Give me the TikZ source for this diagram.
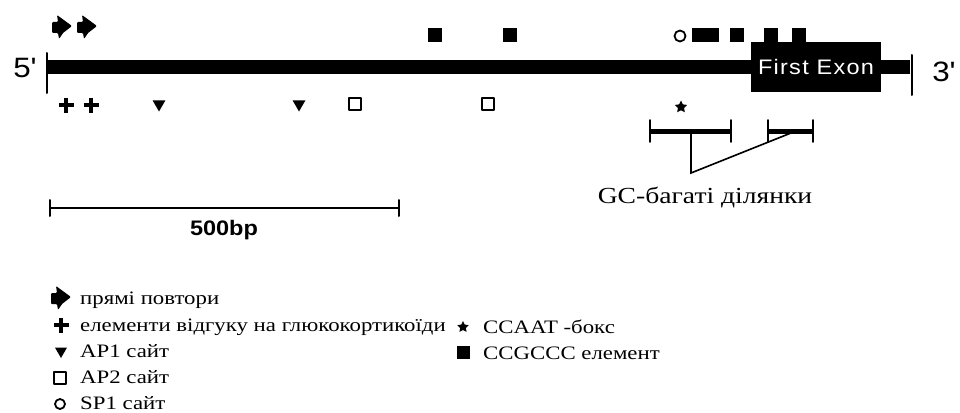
\documentclass[tikz,border=0pt]{standalone}
\usepackage{fontspec}
\setmainfont{Liberation Serif}[FakeStretch=1.2]
\newfontfamily\sansf{Liberation Sans}[FakeStretch=1.12]
\usetikzlibrary{shapes.geometric}

\tikzset{
  ccgc/.style={fill, minimum size=14pt, inner sep=0pt},
  aptwo/.style={draw, line width=1.8pt, minimum size=12pt, inner sep=0pt},
  spone/.style={circle, draw, line width=1.8pt, minimum size=11pt, inner sep=0pt},
  apone/.style={regular polygon, regular polygon sides=3, shape border rotate=180, fill, minimum size=15pt, inner sep=0pt},
  ccaat/.style={star, star points=5, star point ratio=2, fill, minimum size=13pt, inner sep=0pt},
  legtext/.style={anchor=base west, inner sep=0pt, font=\fontsize{19}{20}\selectfont},
  pics/gre/.style={code={\draw[line width=3.6pt, line cap=butt] (-7.5,0)--(7.5,0) (0,-7.5)--(0,7.5);}},
  pics/rep/.style={code={\fill[rounded corners=1pt] (-10,-5)--(-4,-5)--(-5,-12)--(10,-1)--(1,6)--(-3,12)--(-4,6)--(-10,6)--cycle;}}
}

\begin{document}
\begin{tikzpicture}[x=1pt, y=-1pt, line join=round, line cap=round]
\useasboundingbox (0,0) rectangle (960,412);
% promoter strand
\draw[line width=13pt, line cap=butt] (47,67) -- (910,67);
\draw[line width=2pt] (47,53) -- (47,93);
\draw[line width=2pt] (912,55) -- (912,95);
\node[font=\sansf\fontsize{28}{28}\selectfont] (five) at (25,68) {5'};
\node[font=\sansf\fontsize{28}{28}\selectfont] (three) at (944,72) {3'};
\node[fill, minimum width=130pt, minimum height=50pt, inner sep=0pt, text=white,
  font=\sansf\fontsize{21}{21}\selectfont\addfontfeature{LetterSpace=6}] (exon) at (816,67) {First Exon};

% sites above the strand
\foreach \x [count=\i] in {435,510,699,712,737,771,799}
  \node[ccgc] (cc\i) at (\x,35) {};
\node[spone] (sp) at (680,36) {};
\pic at (62,27) {rep};
\pic at (87,27) {rep};

% sites below the strand
\pic at (66,105) {gre};
\pic at (91,105) {gre};
\foreach \x [count=\i] in {159,299}
  \node[apone] (ap\i) at (\x,104) {};
\foreach \x [count=\i] in {355,488}
  \node[aptwo] (apt\i) at (\x,104) {};
\node[ccaat] (box) at (681,107) {};

% GC-rich stretches
\draw[line width=5pt, line cap=butt] (650,131) -- (731,131);
\draw[line width=5pt, line cap=butt] (768,131) -- (813,131);
\foreach \x in {650,731,768,813}
  \draw[line width=1.8pt] (\x,120) -- (\x,142);
\coordinate (gcL) at (691,131);
\coordinate (gcR) at (796,131);
\coordinate (gcK) at (691,173);
\draw[line width=1.6pt, line join=miter] (gcL) -- (gcK) -- (gcR);
\node[font=\fontsize{23}{24}\selectfont] (gc) at (705,197) {GC-багаті ділянки};

% scale bar
\draw[line width=2pt] (50,208) -- (399,208);
\draw[line width=2pt] (50,200) -- (50,216) (399,200) -- (399,216);
\node[font=\sansf\bfseries\fontsize{21}{21}\selectfont] (bp) at (224,230) {500bp};

% legend
\pic at (61,298) {rep};
\pic at (61,325) {gre};
\node[apone, minimum size=14pt] (lap) at (61,351) {};
\node[aptwo] (lapt) at (60,378) {};
\node[spone, minimum size=10pt] (lsp) at (60,404) {};
\node[legtext] (t1) at (80,304) {прямі повтори};
\node[legtext] (t2) at (80,331) {елементи відгуку на глюкокортикоїди};
\node[legtext] (t3) at (80,357.5) {AP1 сайт};
\node[legtext] (t4) at (80,383.5) {AP2 сайт};
\node[legtext] (t5) at (80,409) {SP1 сайт};
\node[ccaat, minimum size=12pt] (lbox) at (463,327) {};
\node[ccgc, minimum size=13pt] (lcc) at (463,352) {};
\node[legtext] (t6) at (483,333) {CCAAT -бокс};
\node[legtext] (t7) at (483,359) {CCGCCC елемент};
\end{tikzpicture}
\end{document}
